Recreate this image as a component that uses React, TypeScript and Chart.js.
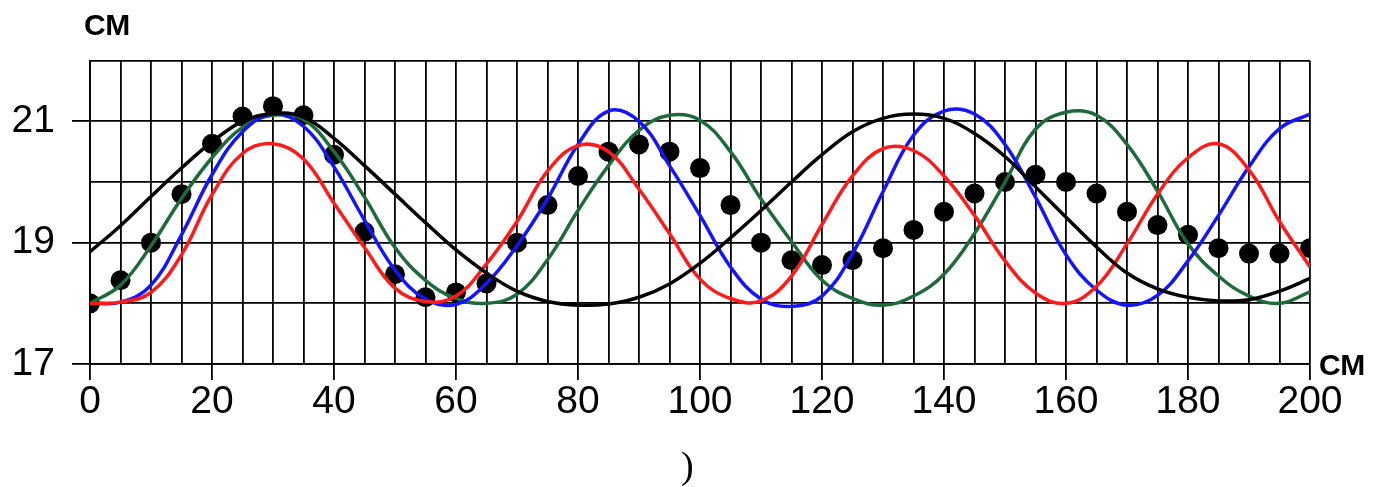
import React, { useEffect, useRef } from "react";
import { Chart, registerables } from "chart.js";

Chart.register(...registerables);

// x positions (cm) of the sampled points
const xValues = [
  0, 5, 10, 15, 20, 25, 30, 35, 40, 45, 50, 55, 60, 65, 70, 75, 80, 85, 90, 95, 100,
  105, 110, 115, 120, 125, 130, 135, 140, 145, 150, 155, 160, 165, 170, 175, 180, 185, 190, 195, 200,
];

// measured points (black dots)
const dotValues = [
  18.0, 18.38, 19.0, 19.8, 20.63, 21.08, 21.25, 21.1, 20.45, 19.18, 18.48, 18.1, 18.18, 18.33, 19.0, 19.62, 20.1, 20.5, 20.62, 20.5, 20.23,
  19.62, 19.0, 18.71, 18.63, 18.71, 18.91, 19.21, 19.51, 19.81, 20.0, 20.12, 20.0, 19.81, 19.51, 19.29, 19.13, 18.91, 18.82, 18.82, 18.91,
];

const blackValues = [
  18.85, 19.28, 19.76, 20.23, 20.66, 21.0, 21.13, 21.07, 20.72, 20.27, 19.8, 19.33, 18.88, 18.5, 18.2, 18.03, 17.97, 17.99, 18.1, 18.32, 18.66,
  19.08, 19.53, 20.0, 20.45, 20.83, 21.05, 21.12, 21.05, 20.8, 20.42, 19.92, 19.42, 18.93, 18.5, 18.24, 18.1, 18.04, 18.06, 18.2, 18.41,
];

const redValues = [
  18.0, 18.02, 18.18, 18.8, 19.79, 20.47, 20.63, 20.38, 19.65, 18.92, 18.25, 18.03, 18.12, 18.65, 19.35, 20.18, 20.6, 20.5, 19.88, 19.15, 18.4,
  18.08, 18.04, 18.45, 19.3, 20.1, 20.55, 20.52, 20.1, 19.45, 18.7, 18.17, 18.0, 18.28, 18.98, 19.8, 20.4, 20.63, 20.2, 19.35, 18.6,
];

const blueValues = [
  18.0, 18.02, 18.3, 19.13, 20.12, 20.83, 21.12, 20.92, 20.25, 19.37, 18.55, 18.07, 17.98, 18.33, 18.95, 19.72, 20.62, 21.17, 21.0, 20.27, 19.45,
  18.6, 18.07, 17.95, 18.12, 18.82, 19.84, 20.77, 21.17, 21.12, 20.62, 19.75, 18.8, 18.22, 17.97, 18.13, 18.7, 19.45, 20.25, 20.88, 21.12,
];

const greenValues = [
  18.0, 18.3, 18.95, 19.73, 20.4, 20.9, 21.1, 21.03, 20.5, 19.75, 18.92, 18.38, 18.08, 18.0, 18.15, 18.72, 19.53, 20.27, 20.85, 21.1, 21.02,
  20.5, 19.72, 19.02, 18.38, 18.08, 17.97, 18.12, 18.48, 19.15, 20.0, 20.87, 21.15, 21.1, 20.62, 19.85, 18.98, 18.45, 18.12, 18.0, 18.19,
];

const xTickLabels = [0, 20, 40, 60, 80, 100, 120, 140, 160, 180, 200];
const yTickLabels = [17, 19, 21];
const unitLabel = "СМ";

const toPoints = (vals: number[]) => xValues.map((x, i) => ({ x, y: vals[i] }));

export default function App() {
  const canvasRef = useRef<HTMLCanvasElement | null>(null);

  useEffect(() => {
    document.body.style.margin = "0";
    const canvas = canvasRef.current;
    if (!canvas) return;
    const lineDs = (label: string, vals: number[], color: string) => ({
      label,
      data: toPoints(vals),
      borderColor: color,
      backgroundColor: color,
      borderWidth: 3.5,
      pointRadius: 0,
      showLine: true,
      tension: 0.4,
      fill: false,
    });
    const chart = new Chart(canvas, {
      type: "line",
      data: {
        datasets: [
          lineDs("black", blackValues, "#000000"),
          lineDs("red", redValues, "#ff1a1a"),
          lineDs("blue", blueValues, "#1414ff"),
          lineDs("green", greenValues, "#1d6b3a"),
          {
            label: "dots",
            data: toPoints(dotValues),
            showLine: false,
            pointRadius: 10,
            pointHoverRadius: 10,
            pointBackgroundColor: "#000",
            pointBorderColor: "#000",
            borderWidth: 0,
            backgroundColor: "#000",
            borderColor: "#000",
          },
        ],
      },
      options: {
        responsive: false,
        animation: false,
        devicePixelRatio: 1,
        layout: { padding: { top: 60.7, right: 82, left: 0, bottom: 0 } },
        plugins: { legend: { display: false }, tooltip: { enabled: false } },
        scales: {
          x: {
            type: "linear",
            min: 0,
            max: 200,
            afterFit: (s: any) => {
              s.height = 123;
            },
            ticks: {
              stepSize: 5,
              autoSkip: false,
              maxRotation: 0,
              padding: -1,
              color: "#000",
              font: { family: "'Liberation Sans', Arial, sans-serif", size: 39 },
              callback: (v: any) => (xTickLabels.includes(Number(v)) ? String(v) : ""),
            },
            grid: {
              color: "#000",
              lineWidth: 1.8,
              tickLength: 16,
              tickWidth: 1.8,
              tickColor: (ctx: any) =>
                ctx.tick && xTickLabels.includes(ctx.tick.value) ? "#000" : "rgba(0,0,0,0)",
            },
            border: { display: true, color: "#000", width: 1.8 },
          },
          y: {
            type: "linear",
            min: 17,
            max: 22,
            afterFit: (s: any) => {
              s.width = 90;
            },
            ticks: {
              stepSize: 1,
              autoSkip: false,
              padding: 17,
              color: "#000",
              font: { family: "'Liberation Sans', Arial, sans-serif", size: 39 },
              callback: (v: any) => (yTickLabels.includes(Number(v)) ? String(v) : ""),
            },
            grid: {
              color: "#000",
              lineWidth: 1.8,
              tickLength: 18,
              tickWidth: 1.8,
              tickColor: (ctx: any) =>
                ctx.tick && yTickLabels.includes(ctx.tick.value) ? "#000" : "rgba(0,0,0,0)",
            },
            border: { display: true, color: "#000", width: 1.8 },
          },
        },
      },
    });
    return () => chart.destroy();
  }, []);

  const unitStyle: React.CSSProperties = {
    position: "absolute",
    fontFamily: "'Liberation Sans', Arial, sans-serif",
    fontWeight: "bold",
    fontSize: 30,
    lineHeight: 1,
    color: "#000",
    whiteSpace: "nowrap",
  };

  return (
    <div style={{ position: "absolute", left: 0, top: 0, width: 1392, height: 487, background: "#fff" }}>
      <canvas ref={canvasRef} width={1392} height={487} style={{ display: "block", width: 1392, height: 487 }} />
      <div style={{ ...unitStyle, left: 84, top: 10 }}>{unitLabel}</div>
      <div style={{ ...unitStyle, left: 1319, top: 350 }}>{unitLabel}</div>
      <div
        style={{
          position: "absolute",
          left: 681,
          top: 446,
          fontFamily: "'Liberation Serif', 'Times New Roman', serif",
          fontSize: 38,
          lineHeight: 1,
          color: "#000",
        }}
      >
        )
      </div>
    </div>
  );
}
